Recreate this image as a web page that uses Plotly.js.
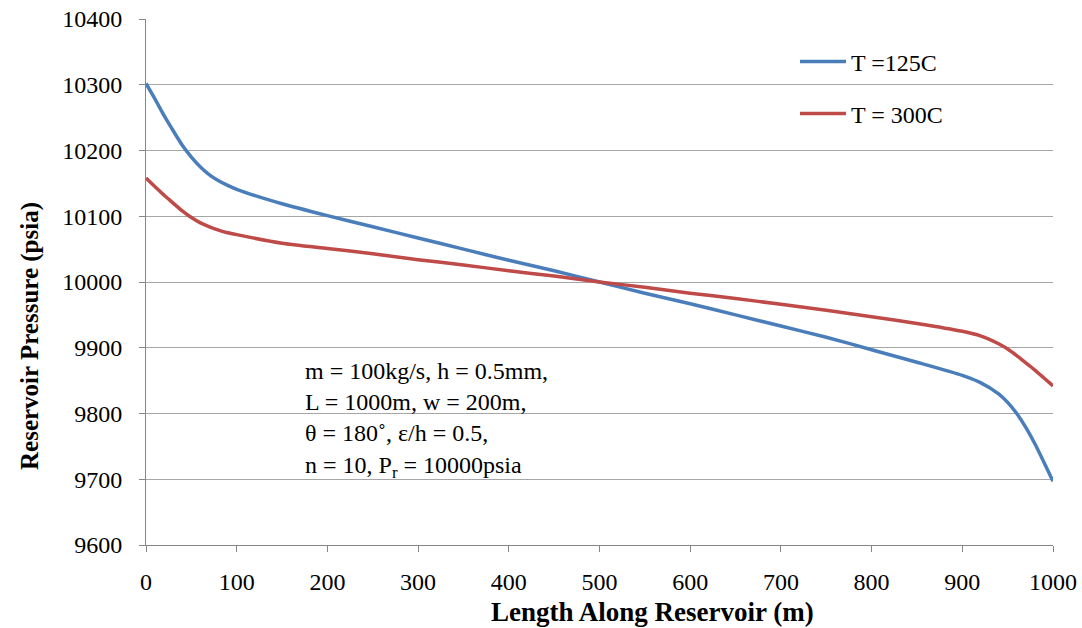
<!DOCTYPE html>
<html>
<head>
<meta charset="utf-8">
<script src="https://cdn.plot.ly/plotly-3.0.1.min.js"></script>
<style>html,body{margin:0;padding:0;background:#fff;}#chart{width:1082px;height:628px;}</style>
</head>
<body>
<div id="chart"></div>
<script>
// Data
const lengthM = [0, 10, 20, 30, 40, 50, 60, 70, 80, 90, 100, 150, 200, 250, 300, 350, 400, 450, 500, 550, 600, 650, 700, 750, 800, 850, 900, 920, 940, 950, 960, 970, 980, 990, 1000];
const pressure125C = [10302, 10278, 10253, 10230, 10208, 10190, 10175, 10163, 10154, 10147, 10141, 10119, 10101, 10084, 10067, 10050, 10033, 10017, 10000, 9983, 9967, 9950, 9933, 9916, 9897, 9878, 9858, 9847, 9830, 9817, 9800, 9779, 9754, 9726, 9697];
const pressure300C = [10158, 10145, 10132, 10120, 10108, 10098, 10090, 10084, 10079, 10075, 10072, 10059, 10051, 10043, 10034, 10026, 10017, 10009, 10000, 9992, 9983, 9975, 9966, 9957, 9947, 9937, 9925, 9918, 9906, 9898, 9888, 9877, 9866, 9854, 9842];
const seriesNames = ["T =125C", "T = 300C"];
const xTitle = "Length Along Reservoir (m)";
const yTitle = "Reservoir Pressure (psia)";
const noteText = "m = 100kg/s, h = 0.5mm,<br>L = 1000m, w = 200m,<br>θ = 180˚, ε/h = 0.5,<br>n = 10, P<sub>r</sub> = 10000psia";

const serif = "Liberation Serif, DejaVu Serif";
const L = 146, R = 1053, T = 19, B = 545;
const pw = R - L, ph = B - T;
const px = v => (v - L) / pw;
const py = v => (B - v) / ph;

const traces = [
  {x: lengthM, y: pressure125C, name: seriesNames[0], type: 'scatter', mode: 'lines',
   line: {color: '#4A7EBB', width: 3.5, shape: 'spline', smoothing: 0.6}, legend: 'legend'},
  {x: lengthM, y: pressure300C, name: seriesNames[1], type: 'scatter', mode: 'lines',
   line: {color: '#BE4B48', width: 3.5, shape: 'spline', smoothing: 0.6}, legend: 'legend2'}
];

const legendBase = {
  xanchor: 'left', yanchor: 'middle', bgcolor: 'rgba(0,0,0,0)', borderwidth: 0,
  font: {family: serif, size: 24, color: '#000'}, itemwidth: 46
};

const layout = {
  width: 1082, height: 628,
  font: {family: serif, color: '#000'},
  margin: {l: L, r: 1082 - R, t: T, b: 628 - B, pad: 0},
  paper_bgcolor: '#fff', plot_bgcolor: '#fff',
  showlegend: true,
  legend: Object.assign({}, legendBase, {x: px(795), y: py(62)}),
  legend2: Object.assign({}, legendBase, {x: px(795), y: py(114)}),
  xaxis: {
    range: [0, 1000], dtick: 100, tick0: 0, tickformat: 'd',
    showgrid: false, zeroline: false,
    showline: true, linecolor: '#868686', linewidth: 1,
    ticks: 'outside', ticklen: 6, tickcolor: '#868686', tickwidth: 1,
    ticklabelstandoff: 9,
    tickfont: {family: serif, size: 24, color: '#000'}
  },
  yaxis: {
    range: [9600, 10400], dtick: 100, tick0: 9600, tickformat: 'd',
    showgrid: true, gridcolor: '#A6A6A6', gridwidth: 1, zeroline: false,
    showline: true, linecolor: '#868686', linewidth: 1,
    ticks: 'outside', ticklen: 6, tickcolor: '#868686', tickwidth: 1,
    ticklabelstandoff: 12,
    tickfont: {family: serif, size: 24, color: '#000'}
  },
  shapes: [
    {type: 'rect', xref: 'paper', yref: 'paper', x0: px(289), x1: px(558), y0: py(476), y1: py(346),
     fillcolor: '#fff', line: {width: 0}, layer: 'below'}
  ],
  annotations: [
    {text: noteText, xref: 'paper', yref: 'paper', x: px(303), y: py(356), xanchor: 'left', yanchor: 'top',
     align: 'left', showarrow: false, font: {family: serif, size: 24, color: '#000'}},
    {text: '<b>' + yTitle + '</b>', xref: 'paper', yref: 'paper', x: px(30), y: py(336),
     xanchor: 'center', yanchor: 'middle', textangle: -90, showarrow: false,
     font: {family: serif, size: 25, color: '#000'}},
    {text: '<b>' + xTitle + '</b>', xref: 'paper', yref: 'paper', x: px(652), y: py(612),
     xanchor: 'center', yanchor: 'middle', showarrow: false,
     font: {family: serif, size: 27, color: '#000'}}
  ]
};

Plotly.newPlot('chart', traces, layout, {staticPlot: true, displayModeBar: false});
</script>
</body>
</html>
